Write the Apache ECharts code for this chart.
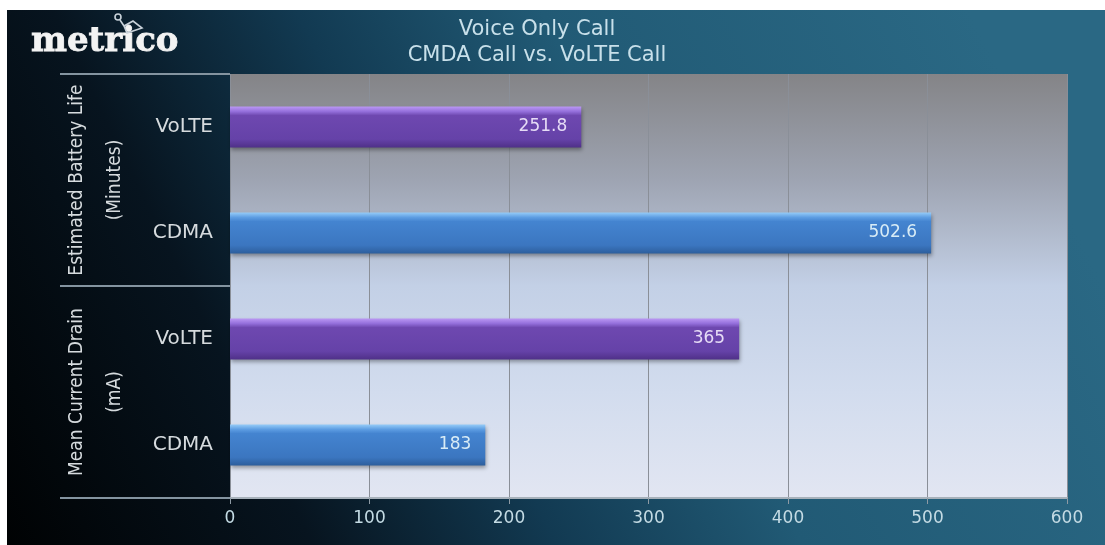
<!DOCTYPE html>
<html><head><meta charset="utf-8">
<script src="https://cdn.jsdelivr.net/npm/echarts@6/dist/echarts.min.js"></script>
<style>html,body{margin:0;padding:0;background:#fff}#c{width:1105px;height:545px}</style>
</head><body><div id="c"></div>
<script>
// ---- data ----
const titleLines = ['Voice Only Call', 'CMDA Call vs. VoLTE Call'];
const groupLines = [['Estimated Battery Life', '(Minutes)'], ['Mean Current Drain', '(mA)']];
const categories = ['VoLTE', 'CDMA', 'VoLTE', 'CDMA'];
const values = [251.8, 502.6, 365, 183];
const xMin = 0, xMax = 600, xStep = 100;
const logoText = 'metrico';

// ---- styles ----
const FONT = "'DejaVu Sans', sans-serif";
const barFill = {
  VoLTE: {type:'linear',x:0,y:0,x2:0,y2:1,colorStops:[
    {offset:0,color:'#bb98f4'},{offset:0.12,color:'#9570dc'},{offset:0.22,color:'#6e48b0'},
    {offset:0.8,color:'#6542a8'},{offset:1,color:'#4f3088'}]},
  CDMA: {type:'linear',x:0,y:0,x2:0,y2:1,colorStops:[
    {offset:0,color:'#96ccf8'},{offset:0.12,color:'#5d9de2'},{offset:0.22,color:'#4484d0'},
    {offset:0.8,color:'#3b76c0'},{offset:1,color:'#2d5e9c'}]}
};
const labelColor = { VoLTE: '#e6dcf6', CDMA: '#d8ecf6' };

const chart = echarts.init(document.getElementById('c'), null, {renderer:'canvas'});

const catKeys = categories.map((c, i) => c + '#' + i);

chart.setOption({
  animation: false,
  title: {
    text: titleLines.join('\n'),
    left: 537, top: 17, textAlign: 'center', padding: 0,
    textStyle: { color: '#c8e0ea', fontSize: 21, fontWeight: 'normal', fontFamily: FONT, lineHeight: 26 }
  },
  grid: {
    left: 230, right: 38, top: 74, bottom: 47,
    show: true, borderWidth: 0,
    backgroundColor: {type:'linear',x:0,y:0,x2:0,y2:1,colorStops:[
      {offset:0,color:'#848487'},{offset:0.25,color:'#9ea4b2'},{offset:0.5,color:'#c3d0e6'},
      {offset:0.75,color:'#d2dcee'},{offset:1,color:'#e2e6f2'}]}
  },
  xAxis: {
    type: 'value', min: xMin, max: xMax, interval: xStep,
    axisLine: { show: true, lineStyle: { color: '#a7b1ba', width: 2 } },
    axisTick: { show: true, length: 6, lineStyle: { color: '#8e9aa4' } },
    axisLabel: { color: '#c4dbe4', fontSize: 17, fontFamily: FONT, margin: 12 },
    splitLine: { show: true, lineStyle: { color: '#8a8f98', width: 1 } }
  },
  yAxis: [{
    type: 'category', inverse: true, data: catKeys,
    axisLine: { show: false }, axisTick: { show: false },
    axisLabel: { color: '#d6dbde', fontSize: 20, fontFamily: FONT, margin: 17,
      formatter: v => v.split('#')[0] }
  }, {
    type: 'category', inverse: true, data: groupLines.map(g => g.join(' ')),
    position: 'left',
    axisLine: { show: false },
    axisTick: { show: true, length: 170, lineStyle: { color: '#8494a0', width: 2 } },
    axisLabel: { show: false }
  }],
  series: [{
    type: 'bar', yAxisIndex: 0, barWidth: 41,
    data: values.map((v, i) => ({
      value: v,
      itemStyle: { color: barFill[categories[i]] },
      label: { color: labelColor[categories[i]] }
    })),
    itemStyle: { shadowBlur: 4, shadowColor: 'rgba(0,0,0,0.35)', shadowOffsetY: 2, shadowOffsetX: 1 },
    label: { show: true, position: 'insideRight', distance: 14, fontSize: 17, fontFamily: FONT }
  }]
});

// background + decorative elements, group labels positioned from the axis
const yPix = i => chart.convertToPixel({ yAxisIndex: 0 }, catKeys[i]);
const groupTexts = [];
groupLines.forEach((lines, g) => {
  const cy = (yPix(g * 2) + yPix(g * 2 + 1)) / 2;
  lines.forEach((t, k) => {
    groupTexts.push({
      type: 'text', x: k === 0 ? 77 : 115, y: cy, rotation: Math.PI / 2, z: 10,
      style: { text: t, fill: '#d6dbde', font: "19px 'DejaVu Sans Condensed', 'DejaVu Sans', sans-serif",
        align: 'center', verticalAlign: 'middle' }
    });
  });
});

chart.setOption({
  graphic: [
    { type: 'rect', z: -100, shape: { x: 7, y: 10, width: 1098, height: 535 },
      style: { fill: {type:'linear',x:0,y:1,x2:0.9,y2:0.1,colorStops:[
        {offset:0,color:'#000203'},{offset:0.25,color:'#07141f'},{offset:0.45,color:'#123a52'},
        {offset:0.65,color:'#215a75'},{offset:1,color:'#2a6884'}]} } },
    { type: 'text', x: 31, y: 42, z: 10,
      style: { text: logoText, fill: '#f3f3f3', font: "bold 34px 'DejaVu Serif', serif",
        align: 'left', verticalAlign: 'middle',
        stroke: '#f3f3f3', lineWidth: 0.8 } },
    { type: 'polyline', z: 10,
      shape: { points: [[120,20],[124,26],[127,33],[142,28],[133,21],[124,26]] },
      style: { fill: null, stroke: '#c9d2da', lineWidth: 1.6 } },
    { type: 'circle', z: 10, shape: { cx: 118, cy: 17, r: 3 },
      style: { fill: null, stroke: '#c9d2da', lineWidth: 1.6 } }
  ].concat(groupTexts)
});
</script></body></html>
